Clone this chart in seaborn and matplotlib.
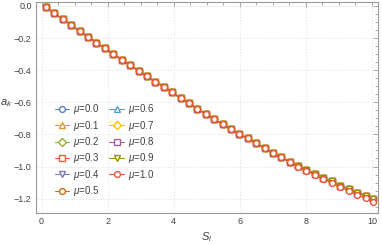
import numpy as np
import pandas as pd
import matplotlib
matplotlib.use("Agg")
import matplotlib.pyplot as plt
import seaborn as sns
from matplotlib.ticker import MultipleLocator, FuncFormatter

sns.set_style("white")
plt.rcParams["font.family"] = ["Liberation Sans", "DejaVu Sans"]
plt.rcParams["mathtext.fontset"] = "custom"
plt.rcParams["mathtext.rm"] = "Liberation Sans"
plt.rcParams["mathtext.it"] = "Liberation Sans:italic"

# S_l values
s_vals = [0.13, 0.39, 0.64, 0.90, 1.15, 1.41, 1.66, 1.92, 2.17, 2.43,
          2.68, 2.94, 3.19, 3.44, 3.70, 3.95, 4.21, 4.46, 4.72, 4.97,
          5.22, 5.48, 5.73, 5.99, 6.24, 6.50, 6.75, 7.00, 7.26, 7.51,
          7.77, 8.02, 8.28, 8.53, 8.79, 9.04, 9.30, 9.55, 9.81, 10.04]

# a_k for mu = 1.0 (red, drawn on top)
a_one = [-0.008, -0.045, -0.083, -0.118, -0.158, -0.191, -0.229, -0.263, -0.299, -0.336,
         -0.367, -0.405, -0.438, -0.471, -0.502, -0.537, -0.575, -0.606, -0.641, -0.672,
         -0.706, -0.737, -0.768, -0.799, -0.825, -0.855, -0.886, -0.917, -0.942, -0.973,
         -1.000, -1.025, -1.052, -1.079, -1.100, -1.129, -1.152, -1.177, -1.197, -1.222]

# a_k for mu = 0.0 ... 0.9 (almost identical, slightly higher at large S_l)
a_rest = [-0.008, -0.045, -0.083, -0.118, -0.158, -0.191, -0.229, -0.263, -0.299, -0.336,
          -0.367, -0.405, -0.438, -0.471, -0.502, -0.537, -0.575, -0.606, -0.641, -0.672,
          -0.706, -0.737, -0.768, -0.799, -0.825, -0.855, -0.886, -0.916, -0.941, -0.971,
          -0.997, -1.021, -1.047, -1.072, -1.092, -1.119, -1.140, -1.163, -1.181, -1.204]

mu_labels = ["0.0", "0.1", "0.2", "0.3", "0.4", "0.5", "0.6", "0.7", "0.8", "0.9", "1.0"]
colors = ["#5E81B5", "#E19C24", "#8FB032", "#EB6235", "#8778B3", "#C56E1A",
          "#5D9EC7", "#FFBF00", "#A5609D", "#929600", "#E95536"]
markers = ["o", "^", "D", "s", "v", "o", "^", "D", "s", "v", "o"]
msizes = [4.2, 4.6, 3.6, 3.8, 4.6, 4.2, 4.6, 3.6, 3.8, 4.6, 4.2]

fig, ax = plt.subplots(figsize=(3.82, 2.45), dpi=100)
fig.subplots_adjust(left=0.094, right=0.99, bottom=0.131, top=0.992)

for i, mu in enumerate(mu_labels):
    vals = a_one if mu == "1.0" else a_rest
    df = pd.DataFrame({"S": s_vals, "a": vals})
    sns.lineplot(data=df, x="S", y="a", ax=ax, color=colors[i], marker=markers[i],
                 markersize=msizes[i], markerfacecolor="white", markeredgecolor=colors[i],
                 markeredgewidth=1.0, linewidth=0.8, label=r"$\mu$=" + mu)

ax.set_xlim(-0.17, 10.19)
ax.set_ylim(-1.289, 0.025)

frame_col = "#9a9a9a"
for sp in ax.spines.values():
    sp.set_color(frame_col)
    sp.set_linewidth(0.8)

ax.xaxis.set_major_locator(MultipleLocator(2))
ax.xaxis.set_minor_locator(MultipleLocator(0.5))
ax.yaxis.set_major_locator(MultipleLocator(0.2))
ax.yaxis.set_minor_locator(MultipleLocator(0.05))
ax.yaxis.set_major_formatter(FuncFormatter(
    lambda v, p: "0.0" if abs(v) < 1e-9 else f"{v:.1f}".replace("-", "\u2212")))
ax.tick_params(which="both", direction="in", top=True, right=True,
               color=frame_col, labelsize=6.5, labelcolor="#404040", width=0.6)
ax.tick_params(which="major", length=3.5, pad=3)
ax.tick_params(which="minor", length=2)

ax.grid(True, which="major", color="#dcdcdc", linestyle=(0, (1, 2)), linewidth=0.7)

ax.set_xlabel("$S_l$", fontsize=8, color="#404040", labelpad=3)
ax.set_ylabel("$a_k$", fontsize=8, color="#404040", rotation=0, va="center", ha="center")
ax.yaxis.set_label_coords(-0.087, 0.52)

ax.legend(loc="upper left", bbox_to_anchor=(0.055, 0.525), ncol=2, frameon=False,
          fontsize=7, handlelength=1.5, handletextpad=0.4, columnspacing=1.0,
          labelspacing=0.25, borderaxespad=0, borderpad=0, labelcolor="#404040")

plt.savefig("out.png", dpi=100)
